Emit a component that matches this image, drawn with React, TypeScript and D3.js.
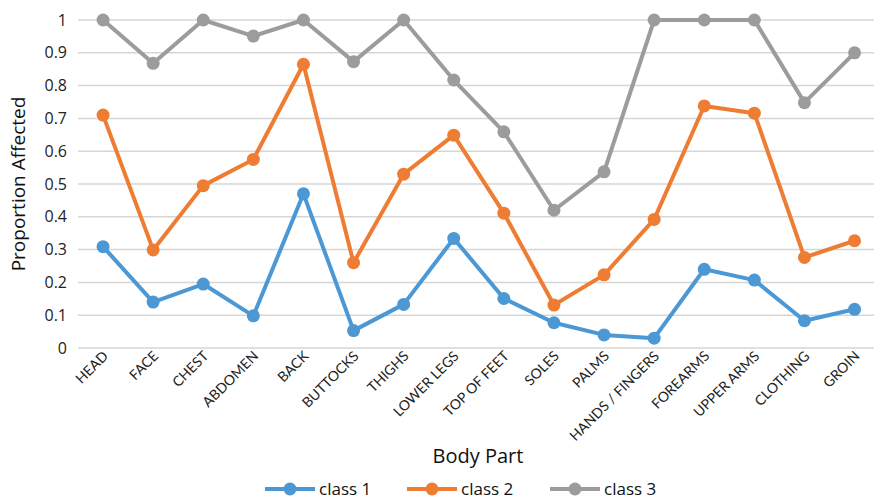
import { useEffect, useRef } from "react";
import * as d3 from "d3";

const bodyParts = [
  "HEAD", "FACE", "CHEST", "ABDOMEN", "BACK", "BUTTOCKS", "THIGHS", "LOWER LEGS",
  "TOP OF FEET", "SOLES", "PALMS", "HANDS / FINGERS", "FOREARMS", "UPPER ARMS",
  "CLOTHING", "GROIN",
];
const class1 = [0.309, 0.14, 0.195, 0.098, 0.47, 0.053, 0.133, 0.334, 0.151, 0.077, 0.04, 0.03, 0.24, 0.207, 0.083, 0.118];
const class2 = [0.71, 0.299, 0.495, 0.575, 0.865, 0.26, 0.53, 0.649, 0.411, 0.131, 0.223, 0.392, 0.738, 0.716, 0.276, 0.327];
const class3 = [1, 0.868, 1, 0.951, 1, 0.873, 1, 0.817, 0.659, 0.42, 0.537, 1, 1, 1, 0.748, 0.9];
const seriesNames = ["class 1", "class 2", "class 3"];
const seriesColors = ["#4C98D4", "#EE7D33", "#9C9C9C"];
const yTicks = [0, 0.1, 0.2, 0.3, 0.4, 0.5, 0.6, 0.7, 0.8, 0.9, 1];

const W = 874;
const H = 500;

export default function App() {
  const svgRef = useRef<SVGSVGElement | null>(null);

  useEffect(() => {
    const svg = d3.select(svgRef.current);
    svg.selectAll("*").remove();

    const left = 78;
    const top = 20;
    const bottom = 348;

    const x = d3.scaleBand().domain(bodyParts).range([left, left + 16 * 50.1]);
    const y = d3.scaleLinear().domain([0, 1]).range([bottom, top]);
    const cx = (d: string) => (x(d) as number) + x.bandwidth() / 2;

    // gridlines
    svg.append("g")
      .selectAll("line")
      .data(yTicks)
      .enter()
      .append("line")
      .attr("x1", left)
      .attr("x2", W)
      .attr("y1", (d) => y(d))
      .attr("y2", (d) => y(d))
      .attr("stroke", "#D6D6D6")
      .attr("stroke-width", 1.5);

    // y tick labels
    svg.append("g")
      .selectAll("text")
      .data(yTicks)
      .enter()
      .append("text")
      .attr("x", 67)
      .attr("y", (d) => y(d))
      .attr("dy", "0.35em")
      .attr("text-anchor", "end")
      .attr("font-family", "'Open Sans', sans-serif")
      .attr("font-size", 16)
      .attr("fill", "#222")
      .text((d) => String(d));

    // x labels
    svg.append("g")
      .selectAll("text")
      .data(bodyParts)
      .enter()
      .append("text")
      .attr("transform", (d) => `translate(${cx(d) + 6},${bottom + 9}) rotate(-45)`)
      .attr("text-anchor", "end")
      .attr("font-family", "Lato, 'Open Sans', sans-serif")
      .attr("font-size", 14)
      .attr("fill", "#222")
      .text((d) => d);

    // axis titles
    svg.append("text")
      .attr("transform", `translate(25,${(top + bottom) / 2}) rotate(-90)`)
      .attr("text-anchor", "middle")
      .attr("font-family", "'Open Sans', sans-serif")
      .attr("font-size", 19)
      .attr("fill", "#111")
      .text("Proportion Affected");

    svg.append("text")
      .attr("x", 478)
      .attr("y", 463)
      .attr("text-anchor", "middle")
      .attr("font-family", "'Open Sans', sans-serif")
      .attr("font-size", 20)
      .attr("fill", "#111")
      .text("Body Part");

    const allSeries = [class1, class2, class3];
    const line = d3
      .line<number>()
      .x((_, i) => cx(bodyParts[i]))
      .y((d) => y(d));

    // draw class 3 first so class 1 sits on top
    [2, 1, 0].forEach((s) => {
      const g = svg.append("g");
      g.append("path")
        .datum(allSeries[s])
        .attr("d", line)
        .attr("fill", "none")
        .attr("stroke", seriesColors[s])
        .attr("stroke-width", 4)
        .attr("stroke-linejoin", "round");
      g.selectAll("circle")
        .data(allSeries[s])
        .enter()
        .append("circle")
        .attr("cx", (_, i) => cx(bodyParts[i]))
        .attr("cy", (d) => y(d))
        .attr("r", 6.5)
        .attr("fill", seriesColors[s]);
    });

    // legend
    const legendX = [265, 407, 550];
    const legend = svg
      .append("g")
      .selectAll("g")
      .data(seriesNames)
      .enter()
      .append("g")
      .attr("transform", (_, i) => `translate(${legendX[i]},489)`);
    legend.append("line")
      .attr("x1", 0)
      .attr("x2", 50)
      .attr("stroke", (_, i) => seriesColors[i])
      .attr("stroke-width", 4);
    legend.append("circle")
      .attr("cx", 25)
      .attr("r", 6.5)
      .attr("fill", (_, i) => seriesColors[i]);
    legend.append("text")
      .attr("x", 54)
      .attr("dy", "0.33em")
      .attr("font-family", "'Open Sans', sans-serif")
      .attr("font-size", 17)
      .attr("fill", "#111")
      .text((d) => d);
  }, []);

  return (
    <svg
      ref={svgRef}
      width={W}
      height={H}
      style={{ position: "absolute", left: 0, top: 0, background: "#fff" }}
    />
  );
}
